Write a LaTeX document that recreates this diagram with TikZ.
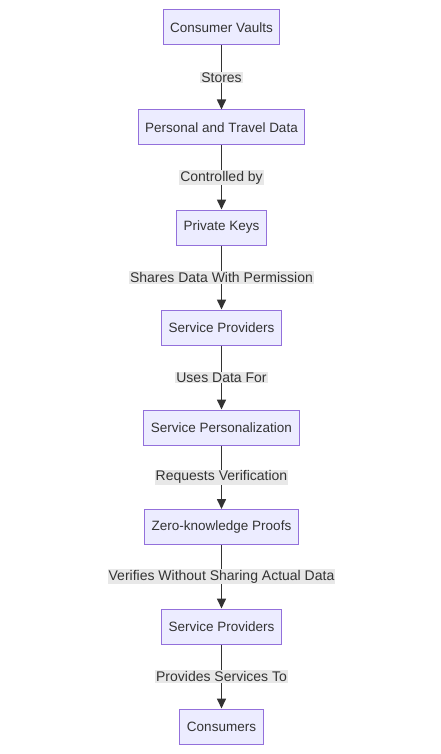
\documentclass[tikz,border=0pt]{standalone}
\usepackage{fontspec}
\setmainfont{Liberation Sans}
\usetikzlibrary{arrows.meta}
\usepackage{xcolor}
\definecolor{boxfill}{HTML}{ECECFF}
\definecolor{boxline}{HTML}{9370DB}
\definecolor{edgeline}{HTML}{333333}
\definecolor{labelbg}{HTML}{E8E8E8}

\begin{document}
\begin{tikzpicture}[x=1pt, y=1pt,
  box/.style={draw=boxline, fill=boxfill, line width=1pt, minimum height=35pt,
    inner xsep=7pt, text=black!80, font=\fontsize{13.5}{16}\selectfont},
  edge/.style={draw=edgeline, line width=1.6pt, -{Triangle[length=10pt,width=9pt]}},
  lbl/.style={fill=labelbg, inner sep=1pt, text=black!80, font=\fontsize{14}{16}\selectfont}]
\useasboundingbox (0,0) rectangle (441,-754);
% the chain of boxes
\node[box] (vaults)   at (221.5,-27.5) {Consumer Vaults};
\node[box] (data)     at (221.5,-127.5) {Personal and Travel Data};
\node[box] (keys)     at (221.5,-227.5) {Private Keys};
\node[box] (prov)     at (221.5,-327.5) {Service Providers};
\node[box] (pers)     at (221.5,-427.5) {Service Personalization};
\node[box] (zkp)      at (221.5,-527) {Zero-knowledge Proofs};
\node[box] (provtwo)  at (221.5,-626.5) {Service Providers};
\node[box] (cons)     at (221.5,-726.5) {Consumers};
% connectors with their labels
\draw[edge] (vaults) -- node[lbl]{Stores} (data);
\draw[edge] (data) -- node[lbl]{Controlled by} (keys);
\draw[edge] (keys) -- node[lbl]{Shares Data With Permission} (prov);
\draw[edge] (prov) -- node[lbl]{Uses Data For} (pers);
\draw[edge] (pers) -- node[lbl]{Requests Verification} (zkp);
\draw[edge] (zkp) -- node[lbl]{Verifies Without Sharing Actual Data} (provtwo);
\draw[edge] (provtwo) -- node[lbl]{Provides Services To} (cons);
\end{tikzpicture}
\end{document}
